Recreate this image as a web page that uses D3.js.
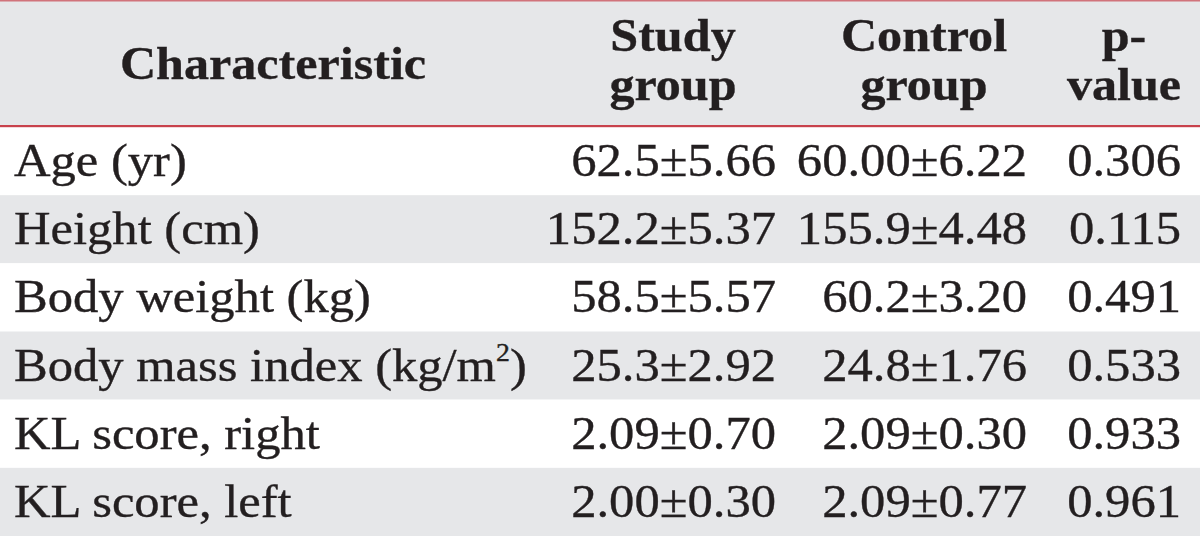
<!DOCTYPE html>
<html>
<head>
<meta charset="utf-8">
<script src="https://cdn.jsdelivr.net/npm/d3@7"></script>
<style>
html,body{margin:0;padding:0;background:#fff;}
svg{display:block;}
text{font-family:"Liberation Serif","Times New Roman",serif;fill:#231f20;stroke:#231f20;stroke-width:0.35px;}
</style>
</head>
<body>
<svg id="chart" width="1200" height="536"></svg>
<script>
const headers = [["Characteristic"], ["Study", "group"], ["Control", "group"], ["p-", "value"]];
const characteristics = ["Age (yr)", "Height (cm)", "Body weight (kg)", "Body mass index (kg/m²)", "KL score, right", "KL score, left"];
const studyGroup = ["62.5±5.66", "152.2±5.37", "58.5±5.57", "25.3±2.92", "2.09±0.70", "2.00±0.30"];
const controlGroup = ["60.00±6.22", "155.9±4.48", "60.2±3.20", "24.8±1.76", "2.09±0.30", "2.09±0.77"];
const pValues = ["0.306", "0.115", "0.491", "0.533", "0.933", "0.961"];

const W = 1200, H = 536, headerH = 126;
const svg = d3.select("#chart");
const gray = "#e6e7e9", red = "#c8424c";
const fs = 46, sxBody = 1.1, sxHead = 1.09;

const y = d3.scaleBand().domain(d3.range(characteristics.length)).range([127, H]);

// header background
svg.append("rect").attr("x", 0).attr("y", 0).attr("width", W).attr("height", headerH).attr("fill", gray);
// row bands
svg.selectAll("rect.band").data(characteristics).join("rect")
  .attr("class", "band")
  .attr("x", 0).attr("y", (d, i) => y(i)).attr("width", W).attr("height", y.bandwidth())
  .attr("fill", (d, i) => i % 2 === 1 ? gray : "#fff");
// lines
svg.append("rect").attr("x", 0).attr("y", 0).attr("width", W).attr("height", 1.5).attr("fill", red).attr("opacity", 0.7);
svg.append("rect").attr("x", 0).attr("y", 125).attr("width", W).attr("height", 2.2).attr("fill", red);

// header text
const hx = [273, 673, 924, 1124];
headers.forEach((lines, j) => {
  lines.forEach((l, k) => {
    const yy = lines.length === 1 ? 79 : (k === 0 ? 51 : 100);
    svg.append("text").attr("text-anchor", "middle").attr("font-weight", "bold").attr("font-size", fs)
      .attr("transform", `translate(${hx[j]},${yy}) scale(${sxHead},1)`).text(l);
  });
});

// body
const base = i => y(i) + y.bandwidth() / 2 + 15;
svg.selectAll("text.lab").data(characteristics).join("text")
  .attr("class", "lab").attr("font-size", fs)
  .attr("transform", (d, i) => `translate(14,${base(i)}) scale(${sxBody},1)`)
  .each(function (d) {
    const sel = d3.select(this);
    if (d.endsWith("²)")) {
      sel.append("tspan").text(d.slice(0, -2));
      sel.append("tspan").attr("font-size", fs * 0.55).attr("dy", -20).text("2");
      sel.append("tspan").attr("dy", 20).text(")");
    } else sel.text(d);
  });

const cols = [[studyGroup, 776], [controlGroup, 1027], [pValues, 1181]];
cols.forEach(([arr, xr]) => {
  svg.append("g").selectAll("text").data(arr).join("text")
    .attr("font-size", fs).attr("text-anchor", "end")
    .attr("transform", (d, i) => `translate(${xr},${base(i)}) scale(${sxBody},1)`).text(d => d);
});
</script>
</body>
</html>
